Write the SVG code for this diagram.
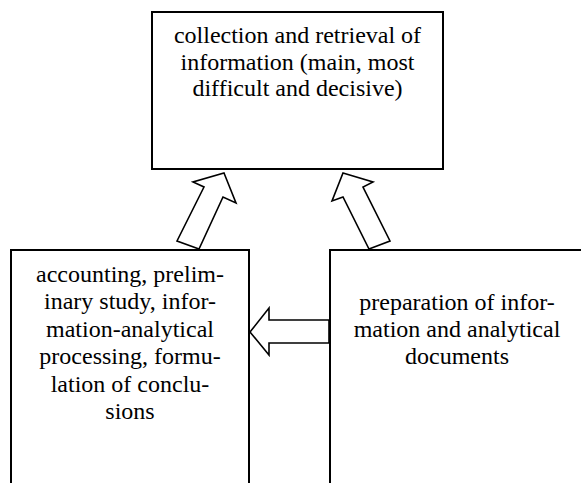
<svg xmlns="http://www.w3.org/2000/svg" width="581" height="483" viewBox="0 0 581 483">
<style>
.box{fill:#fff;stroke:#000;stroke-width:2}
.arr{fill:#fff;stroke:#000;stroke-width:1.6;stroke-linejoin:miter}
.t{font-family:'Liberation Serif','Times New Roman',Times,'DejaVu Serif',serif;font-size:24px;fill:#000;text-anchor:middle}
</style>
<rect width="581" height="483" fill="#fff"/>
<g id="top">
<rect class="box" x="152" y="12" width="291" height="157"/>
<text class="t" font-family="Liberation Serif, serif" x="297.5" y="43">collection and retrieval of</text>
<text class="t" font-family="Liberation Serif, serif" x="297.5" y="70">information (main, most</text>
<text class="t" font-family="Liberation Serif, serif" x="297.5" y="96">difficult and decisive)</text>
</g>
<g id="left">
<rect class="box" x="11" y="250" width="238" height="260"/>
<text class="t" font-family="Liberation Serif, serif" x="130" y="282">accounting, prelim-</text>
<text class="t" font-family="Liberation Serif, serif" x="130" y="309">inary study, infor-</text>
<text class="t" font-family="Liberation Serif, serif" x="130" y="337">mation-analytical</text>
<text class="t" font-family="Liberation Serif, serif" x="130" y="364">processing, formu-</text>
<text class="t" font-family="Liberation Serif, serif" x="130" y="392">lation of conclu-</text>
<text class="t" font-family="Liberation Serif, serif" x="130" y="419">sions</text>
</g>
<g id="right">
<rect class="box" x="330" y="250" width="256" height="260"/>
<text class="t" font-family="Liberation Serif, serif" x="457" y="310">preparation of infor-</text>
<text class="t" font-family="Liberation Serif, serif" x="457" y="337">mation and analytical</text>
<text class="t" font-family="Liberation Serif, serif" x="457" y="364">documents</text>
</g>
<g id="connectors">
<polygon class="arr" points="224,173 236,203 223,197 199,249 177,241 204,187 193,182"/>
<polygon class="arr" points="343,173 373,182 363,187 390,241 369,249 343,197 332,201"/>
<polygon class="arr" points="250,332 269,308 269,320 329,320 329,343 269,343 269,355"/>
</g>
</svg>
